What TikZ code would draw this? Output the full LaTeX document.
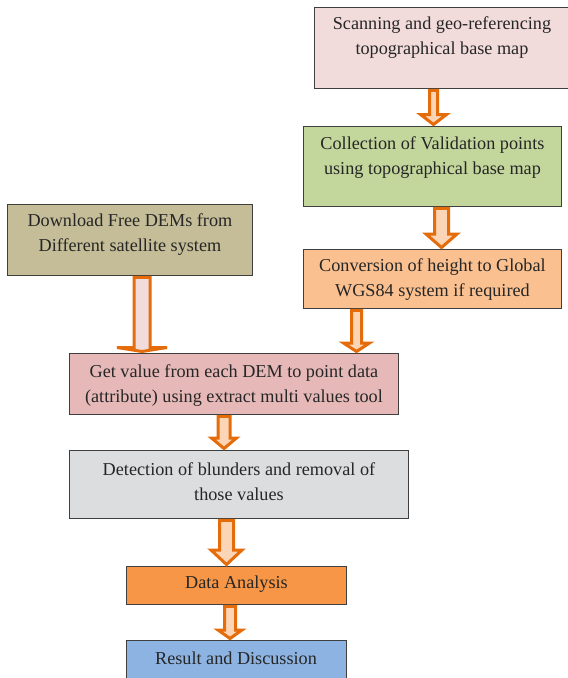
\documentclass[tikz,border=0pt]{standalone}
\usepackage{fontspec}
\setmainfont{Liberation Serif}
\usetikzlibrary{calc}
\definecolor{boxline}{HTML}{3F3F3F}
\definecolor{textc}{HTML}{262626}
\definecolor{arrowline}{HTML}{E46C0A}
\definecolor{arrowfill}{HTML}{FBD5B5}
\definecolor{pinkfill}{HTML}{F2DCDB}
\definecolor{greenfill}{HTML}{C3D69B}
\definecolor{peachfill}{HTML}{FAC090}
\definecolor{khakifill}{HTML}{C4BD97}
\definecolor{rosefill}{HTML}{E6B9B8}
\definecolor{greyfill}{HTML}{DCDDDE}
\definecolor{orangefill}{HTML}{F79646}
\definecolor{bluefill}{HTML}{8DB3E2}
\tikzset{
  box/.style={draw=boxline, line width=0.9pt, rectangle, inner sep=0pt, anchor=north west},
  txt/.style={align=center, text=textc, font=\fontsize{18.2}{25}\selectfont, inner sep=0pt},
  barrow/.style={draw=arrowline, line width=3pt, line join=miter, fill=arrowfill},
}
% #1 x-coordinate name, #2 from node, #3 to node, #4 shaft half, #5 head half, #6 head length, #7 fill
\newcommand\blockarrow[7]{%
  \draw[barrow, fill=#7] let \p1=(#1 |- #2.south), \p2=(#1 |- #3.north) in
    (\x1-#4pt,\y1-1.5pt) -- (\x1-#4pt,\y2+1.5pt+#6pt) -- (\x1-#5pt,\y2+1.5pt+#6pt)
    -- (\x1,\y2+1.5pt) -- (\x1+#5pt,\y2+1.5pt+#6pt) -- (\x1+#4pt,\y2+1.5pt+#6pt)
    -- (\x1+#4pt,\y1-1.5pt) -- cycle;
}
\begin{document}
\begin{tikzpicture}
\useasboundingbox (0pt,0pt) rectangle (568pt,-678pt);
% boxes
\node[box, fill=pinkfill, minimum width=255pt, minimum height=81pt] (scan) at (314pt,-7pt) {};
\node[box, fill=greenfill, minimum width=258pt, minimum height=80pt] (coll) at (303pt,-126pt) {};
\node[box, fill=peachfill, minimum width=258pt, minimum height=59pt] (conv) at (303pt,-249pt) {};
\node[box, fill=khakifill, minimum width=245pt, minimum height=71pt] (dl) at (7pt,-204pt) {};
\node[box, fill=rosefill, minimum width=329pt, minimum height=61pt] (get) at (69pt,-353pt) {};
\node[box, fill=greyfill, minimum width=339pt, minimum height=68pt] (det) at (69pt,-450pt) {};
\node[box, fill=orangefill, minimum width=220pt, minimum height=38pt] (da) at (126pt,-566pt) {};
\node[box, fill=bluefill, minimum width=220pt, minimum height=42pt] (res) at (126pt,-640pt) {};
% texts
\node[txt] (scant) at ($(scan.center)+(0,10pt)$) {Scanning and geo-referencing\\topographical base map};
\node[txt] (collt) at ($(coll.center)+(0,9pt)$) {Collection of Validation points\\using topographical base map};
\node[txt] (convt) at ($(conv.center)+(0,-0.5pt)$) {Conversion of height to Global\\WGS84 system if required};
\node[txt] (dlt) at ($(dl.center)+(0,5pt)$) {Download Free DEMs from\\Different satellite system};
\node[txt] (gett) at ($(get.center)+(0,-1.5pt)$) {Get value from each DEM to point data\\(attribute) using extract multi values tool};
\node[txt] (dett) at ($(det.center)+(0,3pt)$) {Detection of blunders and removal of\\those values};
\node[txt] (dat) at ($(da.center)+(0,1pt)$) {Data Analysis};
\node[txt] (rest) at (236pt,-658pt) {Result and Discussion};
% arrow axes
\coordinate (c1) at (433.5pt,0pt);
\coordinate (c2) at (441.5pt,0pt);
\coordinate (c3) at (142pt,0pt);
\coordinate (c4) at (224pt,0pt);
\coordinate (c5) at (226.5pt,0pt);
\coordinate (c6) at (230pt,0pt);
\coordinate (c7) at (356.5pt,0pt);
% arrows
\blockarrow{c1}{scan}{coll}{4}{13}{10}{arrowfill}
\blockarrow{c2}{coll}{conv}{7}{15.5}{13.5}{arrowfill}
\blockarrow{c3}{dl}{get}{8}{25}{4}{pinkfill}
\blockarrow{c7}{conv}{get}{5}{13}{8.5}{arrowfill}
\blockarrow{c4}{get}{det}{6}{12.5}{10.5}{arrowfill}
\blockarrow{c5}{det}{da}{7}{15.5}{14.5}{arrowfill}
\blockarrow{c6}{da}{res}{5.5}{12}{8.5}{arrowfill}
\end{tikzpicture}
\end{document}
